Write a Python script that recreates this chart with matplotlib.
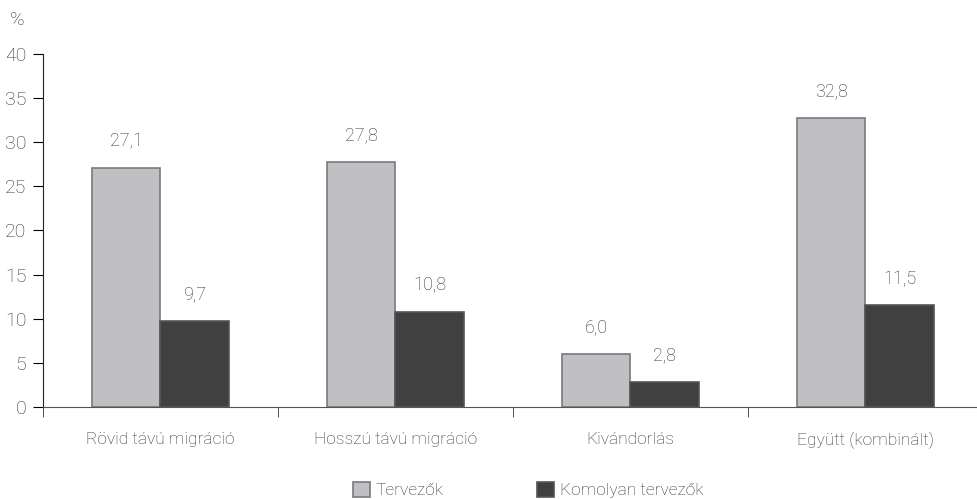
from matplotlib import pyplot as plt
import numpy as np

categories = ['Rövid távú migráció', 'Hosszú távú migráció', 'Kivándorlás', 'Együtt (kombinált)']
tervezok = [27.1, 27.8, 6.0, 32.8]
komolyan = [9.7, 10.8, 2.8, 11.5]
series_names = ['Tervezők', 'Komolyan tervezők']

plt.rcParams['font.family'] = ['Roboto', 'DejaVu Sans']
txt = '#333333'

fig = plt.figure(figsize=(9.77, 4.99), dpi=100)
ax = fig.add_axes([0.044, 0.1844, 0.962, 0.7074])

x = np.arange(len(categories))
w = 0.29
b1 = ax.bar(x - w / 2, tervezok, w, color='#c0c0c4', edgecolor='#7a7a7a', linewidth=1.2, label=series_names[0])
b2 = ax.bar(x + w / 2, komolyan, w, color='#404040', edgecolor='#555555', linewidth=1.2, label=series_names[1])

# value labels with decimal comma
for bars, vals in [(b1, tervezok), (b2, komolyan)]:
    for r, v in zip(bars, vals):
        ax.text(r.get_x() + r.get_width() / 2, v + 2.0, ('%.1f' % v).replace('.', ','),
                ha='center', va='bottom', fontsize=13, color=txt, fontweight='light')

ax.set_xlim(-0.5, 3.5)
ax.set_ylim(0, 40)
ax.set_yticks(range(0, 41, 5))
ax.set_xticks(x)
ax.set_xticklabels(categories)
ax.set_xticks(np.arange(-0.5, 4, 1), minor=True)
ax.tick_params(axis='x', which='major', length=0, pad=18, labelsize=12.5, labelcolor=txt)
ax.tick_params(axis='x', which='minor', length=7, direction='out', color='#333333')
ax.tick_params(axis='y', length=7, labelsize=14, labelcolor=txt, pad=5)
for lab in ax.get_xticklabels() + ax.get_yticklabels():
    lab.set_fontweight('light')

ax.spines['top'].set_visible(False)
ax.spines['right'].set_visible(False)
ax.spines['bottom'].set_color('#555555')
ax.spines['left'].set_color('#222222')

fig.text(0.01, 0.96, '%', fontsize=14, color=txt, fontweight='light', va='center')

leg = fig.legend(loc='lower left', bbox_to_anchor=(0.345, -0.03), ncol=2, frameon=False,
                 fontsize=12.5, handlelength=1.0, handleheight=1.0, handletextpad=0.3,
                 columnspacing=5.4)
for t in leg.get_texts():
    t.set_color(txt)
    t.set_fontweight('light')

plt.savefig('out.png', dpi=100)
